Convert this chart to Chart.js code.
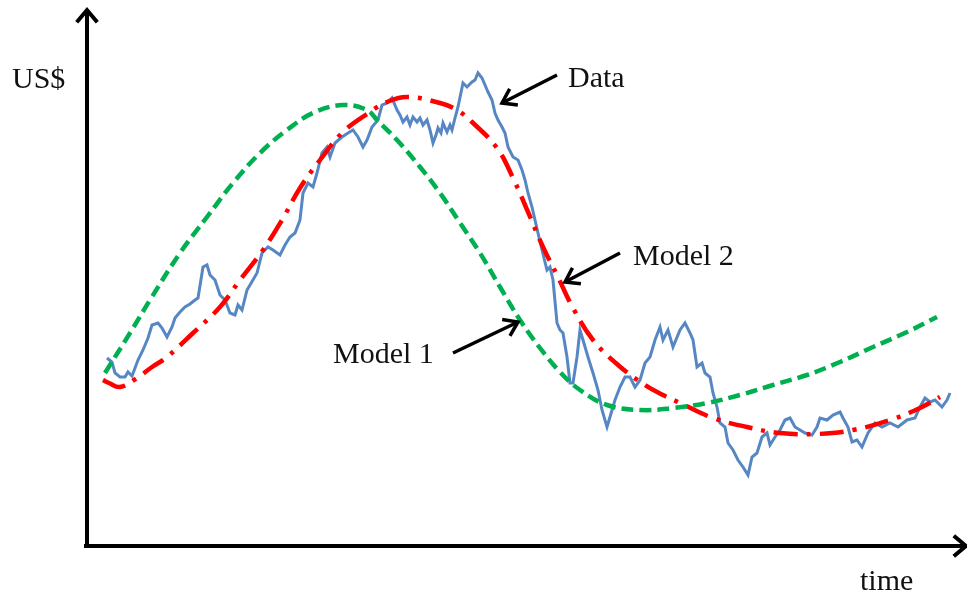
<!DOCTYPE html>
<html>
<head>
<meta charset="utf-8">
<script src="https://cdn.jsdelivr.net/npm/chart.js@4/dist/chart.umd.min.js"></script>
<style>
  html, body { margin: 0; padding: 0; background: #fff; }
  #wrap { width: 967px; height: 594px; }
</style>
</head>
<body>
<div id="wrap"><canvas id="priceChart" width="967" height="594"></canvas></div>
<script>
const dataTime = [20, 25, 28, 33, 38, 41, 45, 51, 56, 61, 65, 71, 75, 80, 85, 88, 93, 98, 103, 108, 111, 116, 120, 123, 128, 133, 138, 143, 148, 151, 155, 160, 163, 170, 175, 181, 186, 193, 198, 203, 208, 213, 216, 221, 226, 230, 235, 240, 243, 248, 255, 261, 266, 271, 276, 280, 285, 291, 295, 300, 305, 310, 313, 316, 320, 323, 326, 330, 333, 336, 340, 343, 346, 349, 351, 354, 356, 360, 363, 365, 368, 371, 376, 380, 385, 388, 391, 395, 398, 401, 405, 408, 411, 415, 418, 421, 426, 431, 435, 438, 441, 445, 448, 451, 455, 460, 463, 466, 470, 473, 476, 480, 483, 486, 490, 493, 496, 501, 506, 511, 515, 520, 523, 528, 533, 538, 543, 548, 553, 558, 563, 568, 573, 576, 581, 586, 593, 598, 603, 606, 610, 615, 618, 623, 626, 630, 633, 638, 641, 646, 651, 656, 661, 665, 670, 675, 680, 683, 688, 693, 698, 703, 708, 713, 718, 725, 730, 733, 740, 746, 753, 756, 761, 765, 770, 775, 781, 788, 795, 803, 811, 820, 828, 833, 838, 843, 848, 855, 860, 863];
const dataValue = [188, 184, 173, 169, 169, 174, 170, 186, 196, 208, 221, 223, 218, 209, 219, 228, 234, 239, 242, 246, 248, 279, 281, 271, 266, 251, 246, 233, 231, 241, 236, 256, 261, 273, 293, 299, 296, 291, 301, 309, 313, 326, 353, 363, 359, 373, 393, 399, 389, 403, 409, 413, 416, 409, 399, 406, 419, 426, 441, 443, 448, 436, 431, 424, 429, 421, 429, 424, 428, 421, 426, 416, 403, 411, 418, 413, 423, 414, 421, 416, 428, 439, 463, 459, 464, 466, 473, 468, 461, 454, 446, 433, 426, 419, 413, 399, 389, 386, 376, 366, 353, 339, 326, 313, 296, 276, 279, 266, 223, 216, 213, 189, 163, 163, 189, 216, 206, 189, 173, 156, 136, 119, 129, 146, 159, 169, 169, 159, 166, 183, 189, 206, 219, 206, 216, 199, 216, 223, 213, 206, 179, 183, 173, 169, 153, 139, 123, 119, 103, 96, 86, 79, 71, 89, 93, 109, 113, 101, 109, 116, 126, 128, 119, 116, 113, 111, 119, 128, 126, 131, 134, 128, 119, 104, 106, 99, 113, 123, 119, 123, 119, 126, 128, 139, 148, 144, 146, 139, 146, 153];

// Model 1 fit
const model1Time = [18, 43, 63, 93, 120, 146, 173, 200, 226, 256, 280, 290, 310, 333, 353, 373, 393, 413, 433, 453, 473, 493, 520, 553, 586, 620, 653, 686, 720, 753, 786, 820, 850];
const model1Value = [173, 213, 246, 293, 329, 363, 393, 416, 433, 441, 436, 426, 406, 379, 353, 323, 293, 259, 226, 198, 174, 156, 141, 136, 138, 143, 151, 161, 171, 184, 199, 214, 229];

// Model 2 fit
const model2Time = [16, 22, 33, 50, 65, 80, 106, 133, 153, 176, 195, 213, 233, 256, 283, 300, 320, 353, 370, 385, 410, 426, 441, 456, 470, 486, 506, 531, 558, 576, 593, 626, 660, 693, 730, 766, 803, 833, 853];
const model2Value = [166, 163, 159, 168, 179, 189, 213, 239, 266, 296, 326, 358, 386, 414, 434, 444, 449, 443, 436, 424, 398, 368, 334, 299, 271, 238, 206, 181, 161, 151, 143, 128, 119, 113, 112, 116, 126, 138, 149];

const labels = [
  { text: 'US$', t: -75, v: 458 },
  { text: 'Data', t: 481, v: 459 },
  { text: 'Model 2', t: 546, v: 281 },
  { text: 'Model 1', t: 246, v: 183 },
  { text: 'time', t: 773, v: -44 }
];
const pointers = [
  { from: [470, 471], to: [415, 443] },
  { from: [533, 293], to: [478, 264] },
  { from: [366, 193], to: [431, 224] }
];

const toXY = (xs, ys) => xs.map((x, i) => ({ x: x, y: ys[i] }));

function chevron(ctx, tipX, tipY, angle, len, spread) {
  ctx.beginPath();
  ctx.moveTo(tipX + len * Math.cos(angle + Math.PI - spread), tipY + len * Math.sin(angle + Math.PI - spread));
  ctx.lineTo(tipX, tipY);
  ctx.lineTo(tipX + len * Math.cos(angle + Math.PI + spread), tipY + len * Math.sin(angle + Math.PI + spread));
  ctx.stroke();
}

const axesPlugin = {
  id: 'axesPlugin',
  beforeDatasetsDraw(chart) {
    const { ctx, scales: { x, y } } = chart;
    const x0 = x.getPixelForValue(0);
    const y0 = y.getPixelForValue(0);
    const top = y.getPixelForValue(536);
    const right = x.getPixelForValue(879);
    ctx.save();
    ctx.strokeStyle = '#000';
    ctx.lineWidth = 4;
    ctx.lineCap = 'butt';
    ctx.beginPath();
    ctx.moveTo(x0, y0 + 2);
    ctx.lineTo(x0, top + 2);
    ctx.moveTo(x0 - 3, y0);
    ctx.lineTo(right - 2, y0);
    ctx.stroke();
    ctx.lineJoin = 'miter';
    chevron(ctx, x0, top, -Math.PI / 2, 16, 0.7);
    chevron(ctx, right, y0, 0, 16, 0.7);
    ctx.restore();
  },
  afterDatasetsDraw(chart) {
    const { ctx, scales: { x, y } } = chart;
    ctx.save();
    ctx.fillStyle = '#111';
    ctx.font = '30px "Liberation Serif", "Times New Roman", serif';
    ctx.textBaseline = 'alphabetic';
    labels.forEach(l => {
      ctx.fillText(l.text, x.getPixelForValue(l.t), y.getPixelForValue(l.v));
    });
    ctx.strokeStyle = '#000';
    ctx.lineWidth = 3.5;
    pointers.forEach(p => {
      const fx = x.getPixelForValue(p.from[0]), fy = y.getPixelForValue(p.from[1]);
      const tx = x.getPixelForValue(p.to[0]), ty = y.getPixelForValue(p.to[1]);
      ctx.beginPath();
      ctx.moveTo(fx, fy);
      ctx.lineTo(tx, ty);
      ctx.stroke();
      chevron(ctx, tx, ty, Math.atan2(ty - fy, tx - fx), 16, 0.6);
    });
    ctx.restore();
  }
};

new Chart(document.getElementById('priceChart'), {
  type: 'line',
  data: {
    datasets: [
      {
        label: 'Model 1',
        data: toXY(model1Time, model1Value),
        borderColor: '#00b050',
        borderWidth: 4.5,
        borderDash: [12, 6],
        tension: 0.4,
        pointRadius: 0
      },
      {
        label: 'Model 2',
        data: toXY(model2Time, model2Value),
        borderColor: '#ff0000',
        borderWidth: 4.5,
        borderDash: [24, 9, 4, 9],
        tension: 0.4,
        pointRadius: 0
      },
      {
        label: 'Data',
        data: toXY(dataTime, dataValue),
        borderColor: '#5686c4',
        borderWidth: 3,
        tension: 0,
        pointRadius: 0
      }
    ]
  },
  options: {
    responsive: false,
    animation: false,
    layout: { padding: 0 },
    plugins: { legend: { display: false }, tooltip: { enabled: false } },
    scales: {
      x: { type: 'linear', min: -87, max: 880, display: false },
      y: { type: 'linear', min: -48, max: 546, display: false }
    }
  },
  plugins: [axesPlugin]
});
</script>
</body>
</html>
